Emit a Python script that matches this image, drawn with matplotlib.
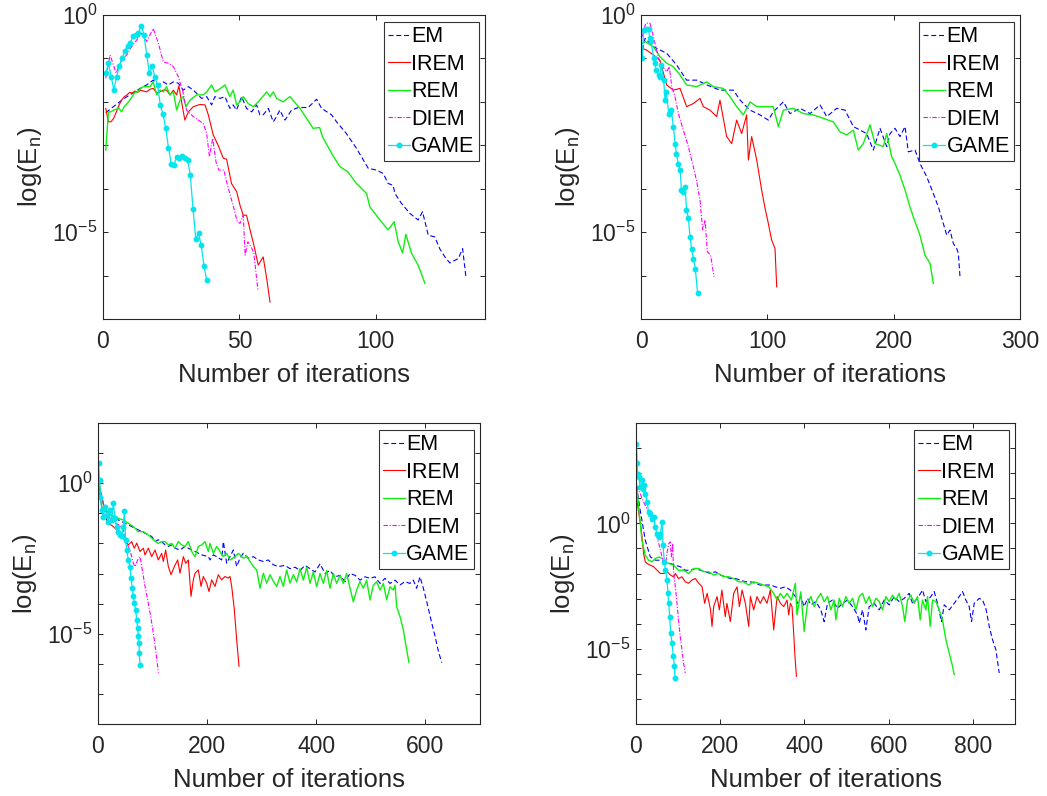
import numpy as np
import matplotlib
matplotlib.use("Agg")
import matplotlib.pyplot as plt
from matplotlib.ticker import FixedLocator, LogFormatterMathtext, NullFormatter

plt.rcParams["font.family"] = ["Liberation Sans", "DejaVu Sans"]
plt.rcParams["mathtext.fontset"] = "custom"
plt.rcParams["mathtext.rm"] = "Liberation Sans"
plt.rcParams["mathtext.it"] = "Liberation Sans:italic"
plt.rcParams["mathtext.default"] = "regular"
plt.rcParams["axes.unicode_minus"] = False

# (iteration, log10 of error)
# ---- panel 1 ----
p1_em = [(1, -2.25), (3, -2.15), (5.9, -2.01), (7.8, -1.92), (9.8, -1.84), (11.7, -1.77), (13.6, -1.69),
         (16, -1.61), (18.4, -1.50), (20.3, -1.61), (22.1, -1.54), (23.9, -1.61), (25.8, -1.54), (27.6, -1.57),
         (29.4, -1.73), (31.3, -1.65), (33.1, -1.73), (34.9, -1.84), (36.1, -1.92), (38, -1.88), (39.8, -2.07),
         (41, -1.88), (42.9, -1.92), (44.7, -1.88), (46.5, -2.15), (47.7, -2.07), (48.9, -2.19), (50.8, -1.88),
         (52.6, -2.15), (54.5, -2.23), (56.3, -2.07), (57.5, -2.30), (58.7, -2.30), (60.6, -2.15), (62.4, -2.46),
         (63.6, -2.34), (64.8, -2.19), (66.7, -2.42), (69.1, -2.19), (71.6, -2.13), (75.2, -2.13), (78.3, -1.94),
         (80.1, -2.15), (83.8, -2.30), (85.6, -2.46), (89.2, -2.73), (92.9, -3.07), (97.2, -3.53), (100.2, -3.57),
         (102.7, -3.65), (104.5, -3.88), (106.3, -3.92), (107, -4.11), (109.4, -4.34), (112.5, -4.57),
         (115.5, -4.72), (117.1, -4.53), (119.2, -5.07), (121.6, -5.11), (123.4, -5.38), (125.3, -5.57),
         (127.1, -5.71), (128.9, -5.65), (130.2, -5.61), (131.8, -5.38), (133, -6.03)]
p1_irem = [(1, -2.15), (2, -2.46), (2.9, -2.46), (3.9, -2.38), (4.9, -2.23), (5.9, -2.07), (6.8, -1.96),
           (7.8, -1.88), (8.8, -1.84), (9.8, -1.78), (10.7, -1.80), (11.7, -1.75), (12.7, -1.78), (13.8, -1.73),
           (14.8, -1.75), (16, -1.77), (17.2, -1.71), (18.4, -1.69), (19.7, -1.80), (20.9, -1.77), (22.1, -1.73),
           (23.3, -1.73), (24.5, -1.84), (25.8, -1.73), (27, -1.84), (27.8, -1.63), (28.8, -2.0), (30, -2.42),
           (31.3, -2.23), (33.1, -2.11), (35.5, -2.06), (37.4, -2.07), (38.6, -2.30), (40.4, -2.76), (42.2, -3.0),
           (44.1, -3.30), (45.3, -3.32), (47.1, -3.88), (49, -4.07), (50.2, -4.38), (51.4, -4.61), (52.6, -4.61),
           (53.8, -4.92), (55.3, -5.30), (56.9, -5.76), (58.7, -5.57), (60, -6.07), (61.2, -6.61)]
p1_rem = [(1, -3.11), (2, -2.23), (2.9, -2.23), (3.9, -2.19), (4.9, -2.17), (5.9, -2.15), (6.8, -2.23),
          (7.8, -2.11), (8.8, -2.04), (9.8, -1.96), (10.7, -1.88), (11.7, -1.78), (12.7, -1.77), (13.8, -1.69),
          (14.8, -1.65), (16, -1.65), (17.2, -1.65), (18.4, -1.54), (19.7, -1.84), (20.9, -1.73), (22.1, -1.77),
          (23.3, -1.65), (24.5, -1.84), (25.8, -1.77), (27, -2.19), (28.2, -1.96), (29.4, -1.88), (30.4, -2.11),
          (31.9, -1.96), (34.3, -1.84), (36.7, -1.84), (38, -1.77), (39.8, -1.61), (41, -1.77), (42.2, -1.73),
          (44.7, -1.61), (46.5, -1.88), (47.7, -1.73), (49, -2.07), (50.2, -2.0), (51.4, -1.88), (53.2, -2.04),
          (55.1, -2.11), (56.9, -2.0), (60, -1.77), (61.2, -1.88), (62.4, -1.77), (63.6, -1.92), (66, -2.0),
          (68.5, -1.88), (72.2, -2.15), (77, -2.61), (79.4, -2.59), (80.4, -2.80), (84.2, -3.23), (86.8, -3.49),
          (89.7, -3.61), (92.9, -3.88), (96.6, -4.11), (97.8, -4.42), (101.5, -4.72), (104.5, -4.95),
          (106.7, -4.76), (108.2, -5.22), (109.8, -5.48), (111, -5.05), (113.1, -5.49), (115.5, -5.76), (118, -6.18)]
p1_diem = [(1, -1.46), (2.6, -0.92), (4.8, -1.34), (6.8, -1.04), (8.7, -0.92), (10.5, -0.73), (12.3, -0.58),
           (14.2, -0.42), (16, -0.61), (18.4, -0.31), (20.3, -0.65), (22.1, -1.08), (23.9, -1.11), (25.8, -1.19),
           (27.6, -1.42), (29.4, -1.80), (30.6, -2.19), (33.1, -2.34), (34.9, -2.42), (36.8, -2.50), (38, -2.73),
           (39, -3.26), (40.2, -2.84), (41.4, -3.38), (42.4, -3.57), (44.3, -3.57), (45.3, -3.84), (46.8, -4.19),
           (47.7, -4.38), (49.2, -4.76), (50.2, -4.80), (51.4, -4.61), (52.1, -5.53), (53.1, -5.22), (54.6, -5.38),
           (55.3, -5.49), (56.3, -6.07), (56.8, -6.34)]
p1_game = [(1, -1.34), (2, -1.11), (3, -1.42), (4, -1.73), (5, -1.42), (6, -1.17), (7, -1.0), (8, -0.83),
           (9, -0.71), (10, -0.65), (11, -0.48), (12, -0.46), (13, -0.42), (14, -0.25), (15, -0.45), (16, -0.91),
           (17, -1.34), (18, -1.17), (19, -1.42), (20, -1.62), (21, -2.07), (22, -2.29), (23, -2.61), (24, -3.06),
           (25, -3.42), (26, -3.46), (27, -3.26), (28, -3.29), (29, -3.24), (30, -3.30), (31, -3.33), (32, -3.69),
           (33, -4.47), (34, -5.16), (35, -5.03), (36, -5.30), (37, -5.78), (38, -6.11)]

# ---- panel 2 ----
p2_em = [(1, -0.81), (3.2, -0.54), (9.8, -0.73), (20.3, -0.88), (28.2, -1.15), (36.1, -1.50), (44.1, -1.50),
         (52, -1.61), (62.5, -1.73), (73.1, -1.73), (78.4, -1.96), (86.3, -2.19), (94.2, -2.30), (100.8, -2.42),
         (104.7, -2.23), (112.7, -2.0), (117.9, -2.27), (125.9, -2.15), (133.8, -2.27), (141.7, -2.07),
         (147, -2.34), (154.9, -2.15), (161.5, -2.19), (168.1, -2.57), (173.4, -2.65), (178.6, -2.73),
         (183.9, -3.11), (189.2, -2.61), (194.5, -3.03), (197.1, -2.73), (201.1, -2.61), (205, -2.80),
         (209, -2.57), (211.6, -3.15), (216.9, -3.11), (220.8, -3.42), (226.1, -3.72), (231.4, -4.11),
         (235.4, -4.42), (239.3, -4.80), (242, -5.07), (244.6, -4.95), (247.2, -5.26), (249.9, -5.38),
         (251.2, -5.49), (252.5, -6.03)]
p2_irem = [(1, -0.77), (4.5, -0.81), (9.8, -0.92), (15, -1.04), (20.3, -1.61), (25.6, -1.73), (30.9, -1.69),
           (36.1, -2.11), (41.4, -2.04), (46.7, -1.92), (49.3, -2.11), (54.6, -2.19), (59.9, -2.34), (62.5, -1.96),
           (67.8, -2.80), (71.8, -2.96), (75.7, -2.42), (79.7, -2.73), (83.6, -2.30), (85, -3.34), (87.6, -2.80),
           (91.6, -3.34), (95.5, -4.03), (98.2, -4.45), (100.8, -4.80), (103.4, -5.18), (106.1, -5.38),
           (107.4, -6.26)]
p2_rem = [(1, -0.65), (3.2, -0.61), (9.8, -0.73), (15, -0.96), (20.3, -1.11), (25.6, -1.19), (30.9, -1.38),
          (36.1, -1.61), (44.1, -1.65), (52, -1.54), (57.3, -1.65), (65.2, -1.69), (70.4, -1.88), (75.7, -2.11),
          (81, -2.30), (86.3, -2.0), (91.6, -2.11), (99.5, -2.11), (104.7, -2.11), (108.7, -2.57), (112.7, -2.19),
          (120.6, -2.15), (128.5, -2.27), (136.4, -2.30), (144.3, -2.38), (152.2, -2.46), (157.5, -2.69),
          (162.8, -2.76), (168.1, -2.65), (172, -3.11), (176, -2.96), (181.3, -2.53), (185.2, -2.96),
          (191.8, -3.03), (194.5, -2.73), (198.4, -3.26), (201.1, -3.42), (205, -3.69), (209, -4.03),
          (212.9, -4.42), (216.9, -4.76), (220.8, -5.07), (224.8, -5.53), (228.8, -5.72), (231.4, -6.18)]
p2_diem = [(1, -0.50), (3.7, -0.19), (7.1, -0.19), (9.8, -0.50), (15, -1.11), (20.3, -1.31), (22.4, -1.19),
           (24.3, -1.65), (26.9, -1.88), (29.6, -2.27), (33.5, -2.65), (37.5, -3.03), (41.4, -3.49), (44.1, -3.84),
           (46.7, -4.26), (48.8, -4.95), (50.7, -4.72), (52.5, -5.45), (55.1, -5.53), (57.8, -6.03)]
p2_game = [(1, -1.0), (2, -0.35), (4, -0.33), (6, -0.33), (7, -0.54), (8, -0.61), (10, -1.0), (11, -1.11),
           (12, -1.27), (14, -1.38), (15, -1.42), (16, -1.15), (18, -1.50), (19, -1.96), (20, -1.77), (22, -2.27),
           (23, -2.23), (24, -2.19), (25.6, -2.57), (27, -2.96), (28, -3.19), (29.5, -3.42), (31, -3.57),
           (32, -4.03), (33.5, -4.07), (35, -3.96), (36, -4.49), (37.5, -4.68), (38.8, -5.11), (40, -5.38),
           (41.4, -5.61), (43, -5.84), (44.8, -6.41)]

# ---- panel 3 ----
p3_em = [(1, 0.2), (2, -0.12), (12.8, -0.89), (25, -1.06), (37.3, -1.22), (49.5, -1.33), (61.7, -1.44),
         (73.9, -1.55), (86.1, -1.66), (98.4, -1.77), (104.5, -1.94), (110.6, -1.88), (116.7, -1.94),
         (122.8, -2.05), (128.9, -2.10), (135, -2.05), (141.1, -2.16), (150.3, -2.22), (159.4, -2.10),
         (171.7, -2.22), (177.8, -2.27), (190, -2.38), (202.2, -2.44), (205.3, -2.55), (211.4, -2.38),
         (217.5, -2.44), (226.6, -2.55), (229.7, -1.94), (235.8, -2.66), (241.9, -2.44), (248, -2.22),
         (254.1, -2.77), (260.2, -2.49), (266.3, -2.33), (275.5, -2.49), (284.7, -2.44), (293.8, -2.55),
         (303, -2.60), (312.1, -2.55), (321.3, -2.71), (330.5, -2.77), (342.7, -2.73), (351.8, -2.84),
         (361, -2.79), (370.2, -2.90), (379.3, -2.73), (388.5, -2.84), (397.7, -2.95), (406.8, -2.68),
         (416, -3.0), (425.1, -2.90), (434.3, -3.11), (443.5, -3.06), (452.6, -3.27), (461.8, -3.0),
         (471, -3.06), (480.1, -3.22), (489.3, -3.11), (498.4, -3.16), (507.6, -3.11), (516.8, -3.33),
         (525.9, -3.16), (535.1, -3.33), (544.3, -3.22), (553.4, -3.38), (562.6, -3.27), (571.7, -3.33),
         (577.8, -3.22), (583.9, -3.49), (590.1, -3.11), (596.2, -3.49), (602.3, -3.93), (611.5, -4.64),
         (617.6, -5.08), (623.7, -5.58), (629.8, -5.96)]
p3_irem = [(1, 0.3), (2, -0.34), (9.8, -1.0), (18.9, -1.33), (28.1, -1.44), (37.3, -1.61), (46.4, -1.83),
           (55.6, -2.05), (61.7, -1.94), (66.6, -2.16), (70.9, -1.99), (77, -2.27), (83.1, -2.16), (86.1, -2.38),
           (92.2, -2.16), (98.4, -2.44), (104.5, -2.22), (110.6, -2.55), (116.7, -2.33), (119.7, -2.60),
           (124, -2.22), (128.9, -2.77), (133.8, -3.04), (139.9, -2.77), (146, -2.55), (150.3, -2.99),
           (156.4, -2.44), (160.7, -2.66), (165.5, -2.55), (170.4, -3.76), (174.7, -3.21), (177.8, -2.99),
           (183.9, -2.88), (188.8, -3.43), (193, -3.10), (199.1, -3.32), (203.4, -3.60), (208.3, -3.21),
           (214.4, -3.43), (220.5, -3.04), (226.6, -3.21), (232.7, -3.10), (238.8, -3.15), (241.9, -3.10),
           (245, -3.43), (249.8, -4.20), (254.1, -5.20), (258.4, -6.08)]
p3_rem = [(1, 0.1), (9.8, -0.72), (18.9, -1.0), (28.1, -1.11), (37.3, -1.17), (46.4, -1.22), (55.6, -1.33),
          (64.8, -1.44), (73.9, -1.61), (83.1, -1.61), (92.2, -1.72), (101.4, -1.88), (110.6, -2.0),
          (116.7, -1.94), (122.8, -1.94), (128.9, -2.05), (135, -2.0), (141.1, -2.16), (147.2, -1.94),
          (153.3, -2.05), (159.4, -2.10), (165.5, -1.94), (171.7, -2.27), (177.8, -2.44), (183.9, -2.10),
          (190, -2.05), (196.1, -1.94), (202.2, -2.27), (205.3, -2.0), (211.4, -2.33), (217.5, -2.10),
          (223.6, -2.27), (229.7, -2.44), (235.8, -2.33), (241.9, -2.55), (251.1, -2.44), (257.2, -2.33),
          (266.3, -2.49), (272.5, -2.44), (278.6, -2.60), (284.7, -2.77), (290.8, -2.88), (296.9, -3.49),
          (303, -2.99), (309.1, -3.32), (315.2, -3.04), (321.3, -3.26), (327.4, -3.43), (333.5, -3.10),
          (339.6, -3.43), (345.7, -2.88), (351.8, -3.32), (358, -3.04), (364.1, -3.28), (370.2, -2.84),
          (376.3, -3.22), (382.4, -2.79), (388.5, -3.33), (394.6, -2.95), (400.7, -3.44), (406.8, -3.0),
          (412.9, -3.33), (419, -2.90), (425.1, -3.49), (431.2, -3.0), (437.3, -3.33), (443.5, -3.06),
          (449.6, -3.33), (455.7, -3.0), (461.8, -3.49), (467.9, -3.94), (474, -3.55), (480.1, -3.27),
          (486.2, -3.49), (492.3, -3.22), (498.4, -3.88), (504.5, -3.39), (510.6, -3.27), (516.8, -3.55),
          (522.9, -3.33), (529, -3.88), (535.1, -3.44), (541.2, -3.55), (544.3, -3.39), (547.3, -4.10),
          (553.4, -4.43), (559.5, -4.87), (565.6, -5.53), (569.9, -5.96)]
p3_diem = [(1, 0.0), (2, -0.12), (12.8, -0.89), (22, -1.17), (31.2, -1.33), (40.3, -1.39), (46.4, -1.55),
           (52.5, -1.99), (58.6, -2.22), (64.8, -2.66), (67.8, -2.77), (72.7, -2.55), (77, -2.44), (81.2, -2.88),
           (86.1, -3.43), (91, -3.87), (95.3, -4.31), (99.6, -4.76), (103.2, -5.20), (106.3, -5.64),
           (109.3, -6.08), (110.6, -6.30)]
p3_game = [(1, 0.66), (3, 0.1), (4.3, -0.45), (6.7, -0.89), (9.8, -1.11), (12.8, -0.78), (15.9, -1.06),
           (18.9, -1.28), (22, -0.89), (25, -1.22), (28.1, -0.67), (31.2, -1.17), (34.2, -1.44), (37.3, -1.61),
           (40.3, -1.72), (43.4, -1.77), (46.4, -1.44), (48.3, -0.94), (50.7, -1.88), (52.5, -2.22),
           (55.6, -2.55), (58.6, -2.77), (60.5, -3.15), (62.9, -3.49), (64.8, -3.76), (66.6, -3.98), (69, -4.20),
           (70.9, -4.54), (72.7, -4.81), (73.9, -5.09), (75.1, -5.31), (75.7, -5.64), (77, -6.03)]

# ---- panel 4 ----
p4_em = [(1, 1.5), (10, 0.52), (22, -0.67), (34, -1.34), (46, -1.47), (58, -1.47), (70, -1.53), (81.5, -1.60),
         (93.4, -1.67), (105, -1.73), (117, -1.87), (129, -1.87), (141, -1.80), (153, -1.87), (164.7, -1.93),
         (176.6, -2.0), (188.4, -1.93), (200, -2.06), (212, -2.13), (224, -2.20), (236, -2.20), (248, -2.26),
         (259.7, -2.33), (271.6, -2.33), (283.5, -2.39), (295, -2.46), (307, -2.46), (319, -2.46), (331, -2.53),
         (343, -2.59), (354.7, -2.53), (366.6, -2.66), (378.5, -2.92), (383.5, -3.19), (391.4, -2.92),
         (399.3, -3.32), (407.3, -2.99), (415.2, -3.25), (427.1, -3.12), (438.9, -3.45), (446.8, -3.92),
         (454.8, -3.19), (466.6, -3.06), (478.5, -3.39), (490.4, -3.19), (502.3, -3.06), (514.1, -3.32),
         (526, -3.65), (530, -3.98), (537.9, -3.45), (545.8, -4.25), (553.7, -3.32), (565.6, -3.19),
         (577.5, -3.45), (589.4, -3.06), (601.2, -3.25), (613.1, -2.92), (625, -3.12), (636.9, -2.99),
         (648.7, -2.79), (656.7, -3.19), (668.5, -2.99), (680.4, -2.66), (688.3, -3.12), (700.2, -2.92),
         (708.1, -2.72), (716, -3.19), (725.5, -3.92), (731.9, -3.25), (743.8, -3.45), (755.6, -3.19),
         (767.5, -2.92), (775.4, -2.72), (783.3, -3.06), (791.3, -3.32), (796.8, -3.92), (803.1, -3.19),
         (815, -2.99), (822.9, -3.06), (830.8, -3.39), (838.8, -4.11), (846.7, -4.64), (854.6, -5.04),
         (862.5, -5.97)]
p4_irem = [(1, 1.05), (8, 0.25), (12.7, -0.28), (18, -1.20), (22, -1.53), (26, -1.60), (34, -1.67), (42, -1.73),
           (50, -1.87), (58, -2.0), (66, -2.0), (74, -1.93), (81.5, -2.06), (89.5, -2.13), (93.4, -2.0),
           (101, -2.2), (109, -2.13), (117, -2.33), (125, -2.39), (133, -2.26), (141, -2.20), (149, -2.39),
           (157, -2.53), (163, -3.19), (169, -2.79), (177, -3.45), (180.5, -4.11), (184.5, -3.32), (192.4, -2.92),
           (198, -3.45), (204, -2.66), (212, -3.72), (216, -3.19), (224, -3.92), (232, -2.79), (240, -2.53),
           (245.5, -3.32), (252, -2.66), (259.7, -3.19), (267.6, -4.11), (271.6, -2.92), (279.5, -3.45),
           (287.4, -2.92), (295, -3.19), (303, -2.92), (311, -3.19), (319, -2.66), (327, -4.25), (335, -2.92),
           (343, -3.19), (350.7, -3.32), (358.7, -3.06), (362.6, -3.65), (366.6, -3.19), (370.5, -3.32),
           (374, -4.25), (377.5, -5.30), (381, -6.10)]
p4_rem = [(1, 1.6), (8, 0.38), (14, -0.67), (22, -1.27), (30, -1.47), (38, -1.53), (46, -1.40), (54, -1.34),
          (62, -1.40), (70, -1.53), (77.6, -1.60), (89.5, -1.67), (101, -1.87), (113, -1.87), (125, -2.0),
          (137, -1.80), (149, -1.80), (160.7, -1.93), (172.6, -1.93), (184.5, -2.06), (196, -2.0), (208, -2.13),
          (220, -2.13), (232, -2.20), (243.9, -2.33), (255.7, -2.33), (267.6, -2.46), (279.5, -2.33),
          (291, -2.39), (303, -2.46), (315, -2.53), (327, -2.79), (335, -3.06), (343, -2.79), (350.7, -2.99),
          (358.7, -2.79), (369, -3.06), (378.5, -2.39), (382.4, -3.65), (391.4, -2.73), (399.3, -4.31),
          (407.3, -3.19), (415.2, -2.92), (423.1, -3.32), (431, -2.99), (438.9, -2.79), (446.8, -3.12),
          (454.8, -2.92), (462.7, -3.45), (470.6, -3.06), (474.6, -3.85), (482.5, -2.99), (490.4, -3.32),
          (498.3, -2.92), (506.2, -3.19), (514.1, -2.99), (522.1, -3.45), (530, -2.92), (537.9, -2.79),
          (545.8, -3.19), (553.7, -2.92), (561.6, -3.32), (569.6, -2.99), (577.5, -3.12), (585.4, -3.45),
          (593.3, -2.92), (601.2, -3.12), (609.2, -2.86), (617.1, -3.06), (625, -2.79), (632.9, -3.32),
          (638.4, -3.92), (644.8, -3.06), (652.7, -2.86), (660.6, -3.19), (668.5, -2.92), (674.9, -3.85),
          (680.4, -3.06), (688.3, -3.45), (692.3, -2.92), (698.6, -4.11), (704.2, -3.06), (712.1, -3.12),
          (720, -3.45), (727.9, -3.85), (735.8, -4.64), (743.8, -5.17), (751.7, -5.70), (755.6, -6.03)]
p4_diem = [(1, 1.5), (10, 1.18), (18, 0.85), (26, 0.58), (34, 0.38), (42, 0.12), (50, -0.54), (58, -1.07),
           (66, -1.60), (70, -1.67), (74, -1.14), (77.6, -0.81), (81.5, -0.74), (84, -1.34), (87, -0.81),
           (89.5, -2.0), (93.4, -2.53), (97.4, -3.19), (101, -3.85), (105, -4.51), (109, -5.04), (113, -5.57),
           (117, -5.97)]
p4_game = [(1, 3.16), (3, 2.4), (4, 1.97), (6.3, 1.84), (10.3, 1.44), (14.3, 1.71), (16.6, 1.38), (19, 1.51),
           (22.2, 1.18), (26.1, 0.85), (30.1, 0.45), (34, 0.38), (38, 0.19), (42, 0.25), (45.9, -0.15),
           (49.9, -0.41), (53.8, -0.54), (57.8, -0.41), (61.8, 0.05), (64.1, -0.87), (67.3, -1.53), (69.7, -1.87),
           (73.6, -2.26), (76, -2.79), (77.6, -3.19), (80, -3.72), (82.3, -4.38), (85.5, -4.78), (88.7, -5.30),
           (91, -5.70), (92.6, -6.16)]

methods = ["EM", "IREM", "REM", "DIEM", "GAME"]
panels = [
    [p1_em, p1_irem, p1_rem, p1_diem, p1_game],
    [p2_em, p2_irem, p2_rem, p2_diem, p2_game],
    [p3_em, p3_irem, p3_rem, p3_diem, p3_game],
    [p4_em, p4_irem, p4_rem, p4_diem, p4_game],
]
x_limits = [(0, 140), (0, 300), (0, 700), (0, 900)]
x_ticks = [[0, 50, 100], [0, 100, 200, 300], [0, 200, 400, 600], [0, 200, 400, 600, 800]]
y_decades = [(-7, 0), (-7, 0), (-8, 2), (-8, 4)]

styles = [
    dict(color="#0000ff", lw=0.8, dashes=(4.5, 2.5)),
    dict(color="#ff0000", lw=0.8),
    dict(color="#11ee11", lw=1.0),
    dict(color="#ff00ff", lw=0.8, dashes=(4, 1.5, 1, 1.5)),
    dict(color="#00e5ee", lw=0.9, marker="o", markersize=3.2),
]

# axes boxes in pixels: left, top, right, bottom
boxes = [(103, 15, 485, 319), (641, 15, 1020, 319), (98, 423, 480, 724), (636, 423, 1015, 724)]
W, H = 1047, 796

fig = plt.figure(figsize=(W / 100, H / 100), dpi=100)
grey = "#262626"

for i, series in enumerate(panels):
    l, t, r, b = boxes[i]
    ax = fig.add_axes([l / W, 1 - b / H, (r - l) / W, (b - t) / H])
    for name, data, st in zip(methods, series, styles):
        arr = np.array(data)
        ax.plot(arr[:, 0], 10 ** arr[:, 1], label=name, **st)
    ax.set_yscale("log")
    lo, hi = y_decades[i]
    ax.set_ylim(10.0 ** lo, 10.0 ** hi)
    ax.set_xlim(*x_limits[i])
    ax.set_xticks(x_ticks[i])
    ax.yaxis.set_major_locator(FixedLocator([1e-5, 1e0]))
    ax.yaxis.set_major_formatter(LogFormatterMathtext())
    ax.yaxis.set_minor_locator(FixedLocator([10.0 ** k for k in range(lo, hi + 1)]))
    ax.yaxis.set_minor_formatter(NullFormatter())
    ax.tick_params(which="both", direction="in", top=True, right=True, length=3.6, width=0.7,
                   color=grey, labelcolor=grey, labelsize=16.5)
    ax.tick_params(axis="x", pad=8)
    ax.tick_params(axis="y", pad=4)
    for s in ax.spines.values():
        s.set_color(grey)
        s.set_linewidth(0.8)
    ax.set_xlabel("Number of iterations", fontsize=18.5, color=grey, labelpad=7)
    ax.set_ylabel("log(E$_n$)", fontsize=18.5, color=grey, labelpad=6)
    leg = ax.legend(loc="upper right", bbox_to_anchor=(0.984, 0.977), borderaxespad=0, fontsize=15.5,
                    frameon=True, fancybox=False, framealpha=1, edgecolor="#333333",
                    handlelength=1.0, handletextpad=0.08, labelspacing=0.3, borderpad=0.2)
    leg.get_frame().set_linewidth(0.8)

fig.savefig("out.png", dpi=100)
